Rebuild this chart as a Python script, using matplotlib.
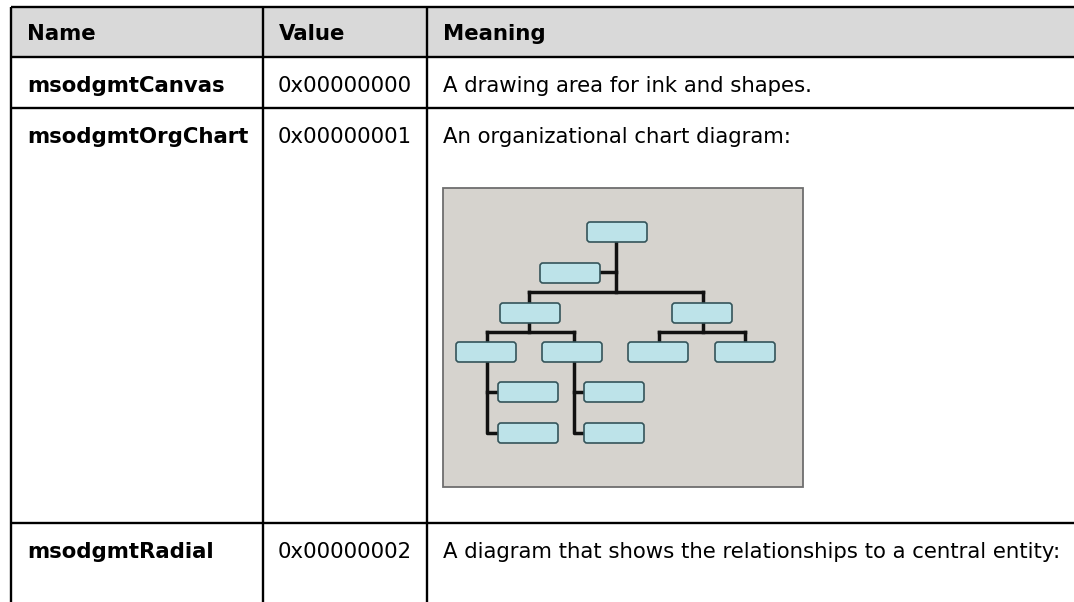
import matplotlib
matplotlib.use("Agg")
import matplotlib.pyplot as plt
from matplotlib.patches import Rectangle, FancyBboxPatch

# table contents
headers = ["Name", "Value", "Meaning"]
names = ["msodgmtCanvas", "msodgmtOrgChart", "msodgmtRadial"]
values = ["0x00000000", "0x00000001", "0x00000002"]
meanings = ["A drawing area for ink and shapes.",
            "An organizational chart diagram:",
            "A diagram that shows the relationships to a central entity:"]

# org chart picture: box top-left corners and connector paths
org_boxes = [(587, 222), (540, 263),
             (500, 303), (672, 303),
             (456, 342), (542, 342), (628, 342), (715, 342),
             (498, 382), (498, 423), (584, 382), (584, 423)]
org_links = [[(616, 242), (616, 292)],
             [(601, 272), (616, 272)],
             [(529, 292), (703, 292)],
             [(529, 292), (529, 303)], [(703, 292), (703, 303)],
             [(529, 323), (529, 332)], [(487, 332), (574, 332)],
             [(487, 332), (487, 342)], [(574, 332), (574, 342)],
             [(703, 323), (703, 332)], [(659, 332), (745, 332)],
             [(659, 332), (659, 342)], [(745, 332), (745, 342)],
             [(487, 363), (487, 433), (498, 433)], [(487, 392), (498, 392)],
             [(574, 363), (574, 433), (584, 433)], [(574, 392), (584, 392)]]

W, H = 1074, 602
fig = plt.figure(figsize=(W / 100, H / 100), dpi=100)
ax = fig.add_axes([0, 0, 1, 1])
ax.set_xlim(0, W)
ax.set_ylim(H, 0)
ax.axis("off")

col_x = [11, 263, 427]
row_y = [7, 57, 108, 523]
fs = 15.3

# header background
ax.add_patch(Rectangle((col_x[0], row_y[0]), W - col_x[0], row_y[1] - row_y[0],
                       facecolor="#d9d9d9", edgecolor="none", zorder=0))

# grid
for y in row_y:
    ax.plot([col_x[0], W], [y, y], color="black", lw=1.7, solid_capstyle="butt")
for x in col_x:
    ax.plot([x, x], [row_y[0], H], color="black", lw=1.7, solid_capstyle="butt")

# header
for x, t in zip(col_x, headers):
    ax.text(x + 16, row_y[0] + 33, t, fontsize=fs, fontweight="bold", va="baseline")

# rows
for i in range(3):
    base = row_y[i + 1] + 35
    ax.text(col_x[0] + 16, base, names[i], fontsize=fs, fontweight="bold", va="baseline")
    ax.text(col_x[1] + 15, base, values[i], fontsize=fs, va="baseline")
    ax.text(col_x[2] + 16, base, meanings[i], fontsize=fs, va="baseline")

# embedded org chart
ax.add_patch(Rectangle((443, 188), 360, 299, facecolor="#d6d3ce",
                       edgecolor="#6e6e6e", lw=1.3, zorder=1))
for pts in org_links:
    xs, ys = zip(*pts)
    ax.plot(xs, ys, color="#111111", lw=2.5, zorder=2, solid_capstyle="projecting")
for bx, by in org_boxes:
    ax.add_patch(FancyBboxPatch((bx, by), 60, 20, boxstyle="round,pad=0,rounding_size=3",
                                facecolor="#bde3e9", edgecolor="#34545a", lw=1.2, zorder=3))

fig.savefig("out.png", dpi=100)
